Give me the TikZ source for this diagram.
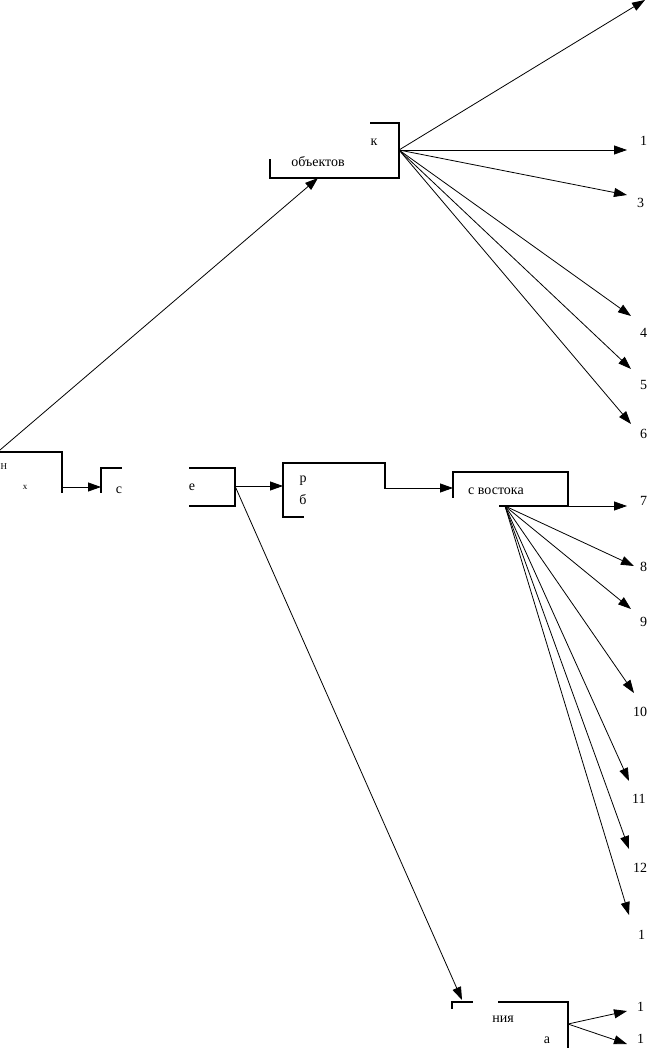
\documentclass[tikz,border=0pt]{standalone}
\usepackage{fontspec}
\setmainfont{Liberation Serif}
\usetikzlibrary{arrows.meta}
\begin{document}
\begin{tikzpicture}[x=1pt,y=-1pt,
  boxline/.style={line width=1.6pt,line cap=rect},
  conn/.style={line width=0.8pt,-{Triangle[length=13pt,width=9pt]}},
  lbl/.style={font=\fontsize{14}{14}\selectfont,inner sep=0pt},
  txt/.style={font=\fontsize{14}{14}\selectfont,inner sep=0pt}]
\useasboundingbox (0,0) rectangle (648,1048);
% --- boxes (visible border parts)
\draw[boxline] (371,123) -- (399,123) -- (399,178) -- (270,178) -- (270,160);
\draw[boxline] (0,452) -- (62,452) -- (62,492);
\draw[boxline] (101,492) -- (101,468) -- (121,468);
\draw[boxline] (190,468) -- (235,468) -- (235,506) -- (190,506);
\draw[boxline] (303,517) -- (283,517) -- (283,463) -- (385,463) -- (385,488);
\draw[boxline] (453,497) -- (453,472) -- (568,472) -- (568,506) -- (500,506);
\draw[boxline] (452,1008) -- (452,1002) -- (472,1002);
\draw[boxline] (499,1002) -- (568,1002) -- (568,1048);
% --- anchor coordinates
\coordinate (b1out) at (399,150);
\coordinate (b1in) at (318,178);
\coordinate (b0top) at (0,450);
\coordinate (b0out) at (62,487);
\coordinate (b2in) at (101,487);
\coordinate (b2out) at (235,486);
\coordinate (b3in) at (283,486);
\coordinate (b3out) at (385,488);
\coordinate (b4in) at (453,488);
\coordinate (b4out) at (568,506);
\coordinate (b4fan) at (505,506);
\coordinate (b5in) at (462,1000);
\coordinate (b5out) at (568,1024);
% --- arrow ends
\coordinate (t0) at (645,0);
\coordinate (t1) at (627,150);
\coordinate (t3) at (627,195);
\coordinate (t4) at (631,316);
\coordinate (t5) at (631,369);
\coordinate (t6) at (631,424);
\coordinate (t7) at (627,506);
\coordinate (t8) at (634,566);
\coordinate (t9) at (631,609);
\coordinate (t10) at (634,693);
\coordinate (t11) at (629,781);
\coordinate (t12) at (629,849);
\coordinate (t13) at (629,915);
\coordinate (t14) at (627,1011);
\coordinate (t15) at (627,1044);
% --- texts
\node[txt] (k) at (374,142) {к};
\node[txt] (obj) at (318,162) {объектов};
\node[txt,font=\fontsize{9}{9}\selectfont] (n0) at (4,467) {Н};
\node[txt,font=\fontsize{9}{9}\selectfont] (n1) at (25,487) {х};
\node[txt] (s2) at (119,490) {с};
\node[txt] (e2) at (192,487) {е};
\node[txt] (r3) at (303,481) {р};
\node[txt] (bb3) at (303,500) {б};
\node[txt] (v4) at (496,491) {с востока};
\node[txt] (n5) at (503,1019) {ния};
\node[txt] (a5) at (547,1040) {а};
\node[lbl,anchor=west] (l1) at (640,141) {1};
\node[lbl,anchor=west] (l3) at (637,203) {3};
\node[lbl,anchor=west] (l4) at (640,333) {4};
\node[lbl,anchor=west] (l5) at (640,385) {5};
\node[lbl,anchor=west] (l6) at (640,434) {6};
\node[lbl,anchor=west] (l7) at (640,501) {7};
\node[lbl,anchor=west] (l8) at (640,567) {8};
\node[lbl,anchor=west] (l9) at (640,622) {9};
\node[lbl,anchor=west] (l10) at (633,712) {10};
\node[lbl,anchor=west] (l11) at (632,799) {11};
\node[lbl,anchor=west] (l12) at (633,868) {12};
\node[lbl,anchor=west] (l13) at (638,935) {1};
\node[lbl,anchor=west] (l14) at (637,1007) {1};
\node[lbl,anchor=west] (l15) at (637,1039) {1};
% --- connectors
\draw[conn] (b0top) -- (b1in);
\draw[conn] (b0out) -- (b2in);
\draw[conn] (b2out) -- (b3in);
\draw[conn] (b3out) -- (b4in);
\draw[conn] (b2out) -- (b5in);
\foreach \t in {t0,t1,t3,t4,t5,t6} \draw[conn] (b1out) -- (\t);
\draw[conn] (b4out) -- (t7);
\foreach \t in {t8,t9,t10,t11,t12,t13} \draw[conn] (b4fan) -- (\t);
\draw[conn] (b5out) -- (t14);
\draw[conn] (b5out) -- (t15);
\end{tikzpicture}
\end{document}
